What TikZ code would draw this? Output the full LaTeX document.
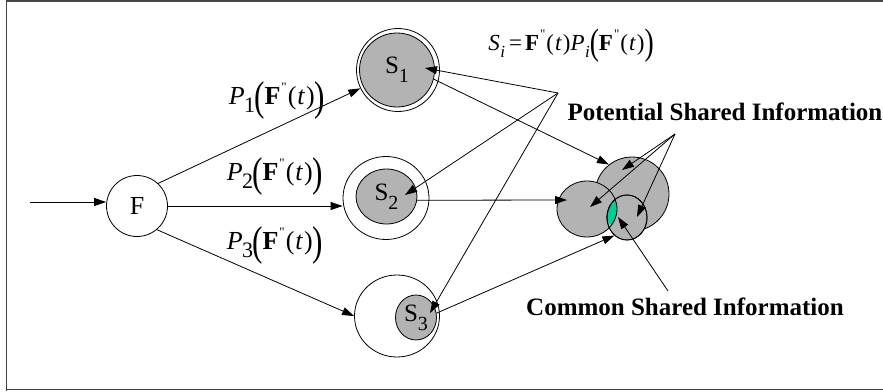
\documentclass[tikz,border=0pt]{standalone}
\usepackage{fontspec}
\setmainfont{Liberation Serif}
\usetikzlibrary{arrows.meta,shapes.geometric}
\definecolor{shade}{RGB}{179,179,179}
\definecolor{teal2}{RGB}{0,204,153}
\definecolor{framec}{RGB}{70,70,70}
\newcommand\Fpp{\textbf{F}\kern1pt\raisebox{0.5em}{\fontsize{13}{13}\selectfont\textquotedbl}\kern1pt}
\newcommand\BL{\raisebox{-0.2em}{\scalebox{1.2}[1.6]{(}}}
\newcommand\BR{\raisebox{-0.2em}{\scalebox{1.2}[1.6]{)}}}
\newcommand\Plab[1]{\textit{P}\kern-0.5pt\raisebox{-0.3em}{\fontsize{22}{22}\selectfont #1}\kern-1pt\BL\Fpp(\kern1pt\textit{t}\kern1pt)\BR}
\newcommand\Slab[1]{S\raisebox{-0.35em}{\fontsize{20}{20}\selectfont #1}}
\begin{document}
\begin{tikzpicture}[x=1pt,y=-1pt,
  conn/.style={draw=black,line width=0.8pt,-{Triangle[length=12pt,width=8pt]}},
  ring/.style={ellipse,draw=black,line width=0.8pt,fill=white,inner sep=0pt},
  core/.style={ellipse,draw=black,line width=0.8pt,fill=shade,inner sep=0pt,font=\fontsize{25}{25}\selectfont},
  lab/.style={inner sep=0pt,font=\fontsize{26}{30}\selectfont},
  bold/.style={inner sep=0pt,font=\fontsize{25}{28}\selectfont\bfseries}]
\useasboundingbox (0,0) rectangle (883,391);
% frame
\draw[framec,line width=1.6pt] (6.5,391) -- (6.5,0.8) -- (883,0.8);
\draw[framec,line width=1.6pt] (6.5,389.6) -- (883,389.6);
% main nodes
\node[ring,minimum width=61pt,minimum height=61pt,font=\fontsize{26}{26}\selectfont] (F) at (137,206) {F};
\node[ring,minimum width=83pt,minimum height=83pt] (S1out) at (398,70) {};
\node[core,minimum width=75pt,minimum height=74pt] (S1in) at (397,70) {\Slab{1}};
\node[ring,minimum width=86pt,minimum height=83pt] (S2out) at (386,198) {};
\node[core,minimum width=61pt,minimum height=55pt] (S2in) at (386.5,196.5) {\Slab{2}};
\node[ring,minimum width=85pt,minimum height=82pt] (S3out) at (397,316) {};
\node[core,minimum width=41pt,minimum height=45pt] (S3in) at (416,317.5) {\Slab{3}};
% venn
\node[core,minimum width=74pt,minimum height=74pt] (Vbig) at (632,194) {};
\node[core,minimum width=60pt,minimum height=56pt] (Vleft) at (587,209) {};
\node[core,minimum width=40pt,minimum height=45pt] (Vsmall) at (627,217.5) {};
\begin{scope}
  \clip (587,209) ellipse [x radius=30pt,y radius=28pt];
  \clip (632,194) circle [radius=37pt];
  \fill[teal2,draw=black,line width=0.8pt] (627,217.5) ellipse [x radius=20pt,y radius=22.5pt];
\end{scope}
\begin{scope}
  \clip (627,217.5) ellipse [x radius=20pt,y radius=22.5pt];
  \draw[black,line width=0.8pt] (587,209) ellipse [x radius=30pt,y radius=28pt];
\end{scope}
\draw[black,line width=0.8pt] (627,217.5) ellipse [x radius=20pt,y radius=22.5pt];
% labels
\node[lab] (P1) at (277,100) {\Plab{1}};
\node[lab] (P2) at (275,176) {\Plab{2}};
\node[lab] (P3) at (275,245) {\Plab{3}};
\node[inner sep=0pt,font=\fontsize{23}{26}\selectfont] (Si) at (571,46) {\textit{S}\kern0.5pt\raisebox{-0.3em}{\fontsize{17}{17}\selectfont\textit{i}}\kern4pt=\kern3pt\Fpp(\kern1pt\textit{t}\kern1pt)\textit{P}\kern0.5pt\raisebox{-0.3em}{\fontsize{17}{17}\selectfont\textit{i}}\BL\Fpp(\kern1pt\textit{t}\kern1pt)\BR};
\node[bold] (pot) at (725,112) {Potential Shared Information};
\node[bold] (com) at (685,307) {Common Shared Information};
% coordinates
\coordinate (in) at (30,202);
\coordinate (A) at (558,93);
\coordinate (B) at (675,134);
\coordinate (C) at (668,291);
\coordinate (t1) at (425,68);
\coordinate (t2) at (405,195);
\coordinate (t3) at (430,313);
\coordinate (tL) at (567,200);
\coordinate (pB) at (622,170);
\coordinate (pL) at (590,207);
\coordinate (pS) at (637,217);
\coordinate (tc) at (618,217);
% connectors
\draw[conn] (in) -- (in -| F.west);
\draw[conn] (F.47) -- (S1out.206);
\draw[conn] (F.east) -- (F.east -| S2out.west);
\draw[conn] (F.-50) -- (S3out.180);
\draw[conn] (A) -- (t1);
\draw[conn] (A) -- (t2);
\draw[conn] (A) -- (t3);
\draw[conn] (S1in.-14) -- (Vbig.128);
\draw[conn] (S2in.-7) -- (tL);
\draw[conn] (S3in.12) -- (Vsmall.235);
\draw[conn] (B) -- (pB);
\draw[conn] (B) -- (pL);
\draw[conn] (B) -- (pS);
\draw[conn] (C) -- (tc);
\end{tikzpicture}
\end{document}
